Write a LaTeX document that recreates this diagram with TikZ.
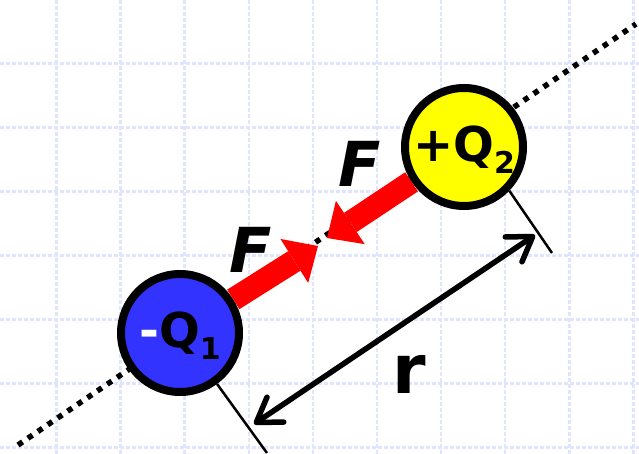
\documentclass[tikz,border=0pt]{standalone}
\usepackage{fontspec}
\setmainfont{DejaVu Sans}
\usetikzlibrary{arrows.meta}
\definecolor{qblue}{RGB}{51,51,255}
\definecolor{qyellow}{RGB}{255,255,0}
\definecolor{gridblue}{RGB}{222,229,252}

\begin{document}
\begin{tikzpicture}[x=1pt,y=-1pt,
          gridline/.style={draw=gridblue,line width=2.5pt,dash pattern=on 4pt off 2pt},
          axisdots/.style={draw=black,line width=5.5pt,dash pattern=on 5.5pt off 6.5pt},
          charge/.style={circle,draw=black,line width=8pt,minimum size=118pt,inner sep=0pt,
                         font=\bfseries\fontsize{48}{48}\selectfont},
          force/.style={draw=red,line width=23pt,-{Triangle[length=28pt,width=52pt,line width=0pt]}},
          flabel/.style={inner sep=0pt,font=\bfseries\itshape\fontsize{62}{62}\selectfont},
          tick/.style={draw=black,line width=2.5pt},
          dist/.style={draw=black,line width=5.5pt,
                       {Straight Barb[length=23pt,width=30pt,round]}-{Straight Barb[length=23pt,width=30pt,round]}}]
        \useasboundingbox (0,0) rectangle (639,454);
        \fill[white] (0,0) rectangle (639,454);
        \foreach \gx in {0,...,9}
          \draw[gridline] ({56.5+64.1*\gx},0) -- ({56.5+64.1*\gx},454);
        \foreach \gy in {0,...,6}
          \draw[gridline] (0,{63.5+64*\gy}) -- (639,{63.5+64*\gy});

        \coordinate (ax1) at (18,445);
        \coordinate (ax2) at (636,24);
        \coordinate (f1) at (318,246);
        \coordinate (f2) at (327,238);
        \coordinate (e1) at (267,453);
        \coordinate (e2) at (552,253);
        \coordinate (r1) at (254,424);
        \coordinate (r2) at (535,235);

        \draw[axisdots] (ax1) -- (ax2);

        \node[charge,fill=qblue] (q1) at (180,333)
          {\textcolor{white}{-}Q\raisebox{-0.26em}[0pt][0pt]{\fontsize{30}{30}\selectfont 1}};
        \node[charge,fill=qyellow] (q2) at (464,147)
          {+Q\raisebox{-0.26em}[0pt][0pt]{\fontsize{30}{30}\selectfont 2}};

        \draw[force] (q1) -- (f1);
        \draw[force] (q2) -- (f2);
        \node[flabel] (fa) at (251,250) {F};
        \node[flabel] (fb) at (360,164) {F};

        \draw[tick] (q1.-54) -- (e1);
        \draw[tick] (q2.-44) -- (e2);
        \draw[dist] (r1) -- (r2);
        \node[font=\bfseries\fontsize{68}{68}\selectfont,inner sep=0pt] (rl) at (409,374) {r};
      \end{tikzpicture}
\end{document}
